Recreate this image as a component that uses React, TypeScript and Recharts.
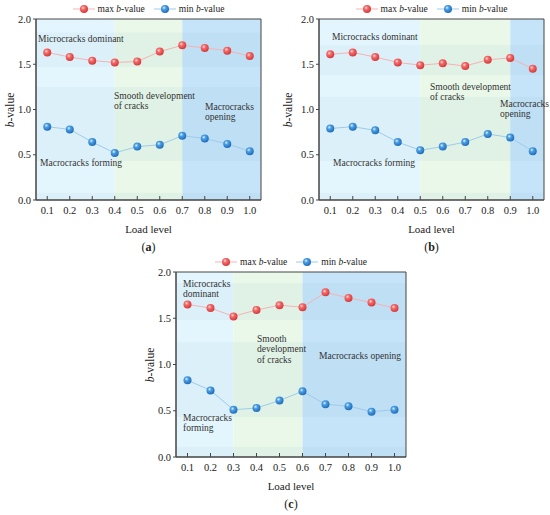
import React from 'react';
import { LineChart, Line, XAxis, YAxis, ReferenceArea } from 'recharts';

// load levels shared by all three panels
const loadLevels = [0.1, 0.2, 0.3, 0.4, 0.5, 0.6, 0.7, 0.8, 0.9, 1.0];
const yTicks = [0, 0.5, 1.0, 1.5, 2.0];

// (a)
const maxA = [1.63, 1.58, 1.54, 1.52, 1.53, 1.64, 1.71, 1.68, 1.65, 1.59];
const minA = [0.81, 0.78, 0.64, 0.52, 0.59, 0.61, 0.71, 0.68, 0.62, 0.54];
const stagesA = [0.05, 0.4, 0.7, 1.05];
const bandsA = [[1.47, 1.85], [0.43, 1.25], [0, 0.08]];

// (b)
const maxB = [1.61, 1.63, 1.58, 1.52, 1.49, 1.51, 1.48, 1.55, 1.57, 1.45];
const minB = [0.79, 0.81, 0.77, 0.64, 0.55, 0.59, 0.64, 0.73, 0.69, 0.54];
const stagesB = [0.05, 0.5, 0.9, 1.05];
const bandsB = [[1.38, 1.71], [0.43, 1.14], [0, 0.08]];

// (c)
const maxC = [1.65, 1.61, 1.52, 1.59, 1.64, 1.62, 1.78, 1.72, 1.67, 1.61];
const minC = [0.83, 0.72, 0.51, 0.53, 0.61, 0.71, 0.57, 0.55, 0.49, 0.51];
const stagesC = [0.05, 0.3, 0.6, 1.05];
const bandsC = [[1.48, 1.88], [0.43, 1.24], [0, 0.11]];

const stageColors = ['#e4f6fd', '#e9f8e9', '#c6e4f9'];
const serif = '"Liberation Serif", "Times New Roman", serif';
const ink = '#222';

const XTick = (props: any) => {
  const { x, y, payload } = props;
  return (
    <g>
      <line x1={x} x2={x} y1={y} y2={y - 4} stroke="#444" />
      <text x={x} y={y + 14} textAnchor="middle" fontSize={10.5} fill={ink} fontFamily={serif}>
        {Number(payload.value).toFixed(1)}
      </text>
    </g>
  );
};

const Ball = ({ grad, line }: { grad: string; line: string }) => (
  <svg width={22} height={10} style={{ display: 'block' }}>
    <line x1={0} x2={22} y1={5} y2={5} stroke={line} strokeWidth={1} />
    <circle cx={11} cy={5} r={4} fill={`url(#${grad})`} />
  </svg>
);

type PanelProps = {
  id: string;
  tag: string;
  left: number;
  top: number;
  width: number;
  height: number;
  margin: { top: number; right: number; bottom: number; left: number };
  yLabelGap: number;
  maxVals: number[];
  minVals: number[];
  stages: number[];
  bands: number[][];
  notes: { lines: string[]; x: number; y: number }[];
};

const Panel = (p: PanelProps) => {
  const data = loadLevels.map((x, i) => ({ x, max: p.maxVals[i], min: p.minVals[i] }));
  const yAxisWidth = 25;
  const xAxisHeight = 30;
  const plotLeft = p.left + p.margin.left + yAxisWidth;
  const plotRight = p.left + p.width - p.margin.right;
  const plotTop = p.top + p.margin.top;
  const plotBottom = p.top + p.height - p.margin.bottom - xAxisHeight;
  const cx = (plotLeft + plotRight) / 2;
  const redId = `red-${p.id}`;
  const blueId = `blue-${p.id}`;

  return (
    <>
      <div style={{ position: 'absolute', left: p.left, top: p.top }}>
        <LineChart width={p.width} height={p.height} data={data} margin={p.margin}>
          <defs>
            <radialGradient id={redId} cx="38%" cy="35%" r="65%">
              <stop offset="0%" stopColor="#ffe0e0" />
              <stop offset="35%" stopColor="#f56a6a" />
              <stop offset="100%" stopColor="#d43a3a" />
            </radialGradient>
            <radialGradient id={blueId} cx="38%" cy="35%" r="65%">
              <stop offset="0%" stopColor="#e0f2ff" />
              <stop offset="35%" stopColor="#4b9fe2" />
              <stop offset="100%" stopColor="#1f6cbc" />
            </radialGradient>
          </defs>
          {stageColors.map((c, i) => (
            <ReferenceArea
              key={`s${i}`}
              x1={p.stages[i]}
              x2={p.stages[i + 1]}
              y1={0}
              y2={2}
              fill={c}
              fillOpacity={1}
              stroke="none"
            />
          ))}
          {p.bands.map((b, i) => (
            <ReferenceArea
              key={`b${i}`}
              x1={0.05}
              x2={1.05}
              y1={b[0]}
              y2={b[1]}
              fill="#2a6aa8"
              fillOpacity={0.045}
              stroke="none"
            />
          ))}
          <ReferenceArea x1={0.05} x2={1.05} y1={0} y2={2} fill="none" stroke="#444" strokeWidth={1} />
          <XAxis
            dataKey="x"
            type="number"
            domain={[0.05, 1.05]}
            ticks={loadLevels}
            interval={0}
            allowDataOverflow
            height={xAxisHeight}
            tickSize={0}
            tickMargin={0}
            tick={<XTick />}
            axisLine={{ stroke: '#444' }}
          />
          <YAxis
            type="number"
            domain={[0, 2]}
            ticks={yTicks}
            interval={0}
            width={yAxisWidth}
            tickSize={3}
            tickMargin={2}
            tickFormatter={(v: number) => v.toFixed(1)}
            tick={{ fontSize: 10.5, fill: ink, fontFamily: serif }}
            axisLine={{ stroke: '#444' }}
            tickLine={{ stroke: '#444' }}
          />
          <Line
            dataKey="max"
            stroke="#f4b3b3"
            strokeWidth={1}
            dot={{ r: 4, fill: `url(#${redId})`, stroke: 'none' }}
            activeDot={false}
            isAnimationActive={false}
          />
          <Line
            dataKey="min"
            stroke="#9fcbea"
            strokeWidth={1}
            dot={{ r: 4, fill: `url(#${blueId})`, stroke: 'none' }}
            activeDot={false}
            isAnimationActive={false}
          />
        </LineChart>
      </div>

      {/* legend */}
      <div
        style={{
          position: 'absolute',
          left: plotLeft,
          width: plotRight - plotLeft,
          top: plotTop - 16,
          display: 'flex',
          justifyContent: 'center',
          alignItems: 'center',
          fontFamily: serif,
          fontSize: 9.5,
          color: ink,
          lineHeight: '12px',
        }}
      >
        <Ball grad={redId} line="#f4b3b3" />
        <span style={{ marginLeft: 3, marginRight: 9 }}>
          max <i>b</i>-value
        </span>
        <Ball grad={blueId} line="#9fcbea" />
        <span style={{ marginLeft: 3 }}>
          min <i>b</i>-value
        </span>
      </div>

      {/* y label */}
      <div
        style={{
          position: 'absolute',
          left: plotLeft - p.yLabelGap,
          top: (plotTop + plotBottom) / 2,
          transform: 'translate(-50%, -50%) rotate(-90deg)',
          fontFamily: serif,
          fontSize: 11.5,
          color: ink,
          whiteSpace: 'nowrap',
        }}
      >
        <i>b</i>-value
      </div>

      {/* x label and panel tag */}
      <div
        style={{
          position: 'absolute',
          left: cx,
          top: plotBottom + 29,
          transform: 'translate(-50%, -50%)',
          fontFamily: serif,
          fontSize: 11,
          color: ink,
          whiteSpace: 'nowrap',
        }}
      >
        Load level
      </div>
      <div
        style={{
          position: 'absolute',
          left: cx,
          top: plotBottom + 47,
          transform: 'translate(-50%, -50%)',
          fontFamily: serif,
          fontSize: 12,
          color: ink,
          whiteSpace: 'nowrap',
        }}
      >
        (<b>{p.tag}</b>)
      </div>

      {/* stage notes */}
      {p.notes.map((n, i) => (
        <div
          key={i}
          style={{
            position: 'absolute',
            left: n.x,
            top: n.y - 5.5,
            fontFamily: serif,
            fontSize: 9.5,
            lineHeight: '10.7px',
            color: '#333',
            whiteSpace: 'nowrap',
          }}
        >
          {n.lines.map((l, j) => (
            <div key={j}>{l}</div>
          ))}
        </div>
      ))}
    </>
  );
};

export default function App() {
  return (
    <div style={{ position: 'absolute', left: 0, top: 0, width: 550, height: 515, background: '#fff' }}>
      <Panel
        id="a"
        tag="a"
        left={0}
        top={0}
        width={275}
        height={250}
        margin={{ top: 19, right: 14, bottom: 20, left: 11 }}
        yLabelGap={26}
        maxVals={maxA}
        minVals={minA}
        stages={stagesA}
        bands={bandsA}
        notes={[
          { lines: ['Microcracks dominant'], x: 38, y: 39 },
          { lines: ['Smooth development', 'of cracks'], x: 114, y: 96 },
          { lines: ['Macrocracks', 'opening'], x: 205, y: 107 },
          { lines: ['Macrocracks forming'], x: 40, y: 163 },
        ]}
      />
      <Panel
        id="b"
        tag="b"
        left={275}
        top={0}
        width={275}
        height={250}
        margin={{ top: 19, right: 6, bottom: 20, left: 19 }}
        yLabelGap={31}
        maxVals={maxB}
        minVals={minB}
        stages={stagesB}
        bands={bandsB}
        notes={[
          { lines: ['Microcracks dominant'], x: 332, y: 37 },
          { lines: ['Smooth development', 'of cracks'], x: 430, y: 87 },
          { lines: ['Macrocracks', 'opening'], x: 500, y: 104 },
          { lines: ['Macrocracks forming'], x: 333, y: 163 },
        ]}
      />
      <Panel
        id="c"
        tag="c"
        left={130}
        top={250}
        width={290}
        height={265}
        margin={{ top: 22, right: 14, bottom: 28, left: 21 }}
        yLabelGap={26}
        maxVals={maxC}
        minVals={minC}
        stages={stagesC}
        bands={bandsC}
        notes={[
          { lines: ['Microcracks', 'dominant'], x: 183, y: 284 },
          { lines: ['Smooth', 'development', 'of cracks'], x: 257, y: 339 },
          { lines: ['Macrocracks opening'], x: 319, y: 356 },
          { lines: ['Macrocracks', 'forming'], x: 183, y: 418 },
        ]}
      />
    </div>
  );
}
